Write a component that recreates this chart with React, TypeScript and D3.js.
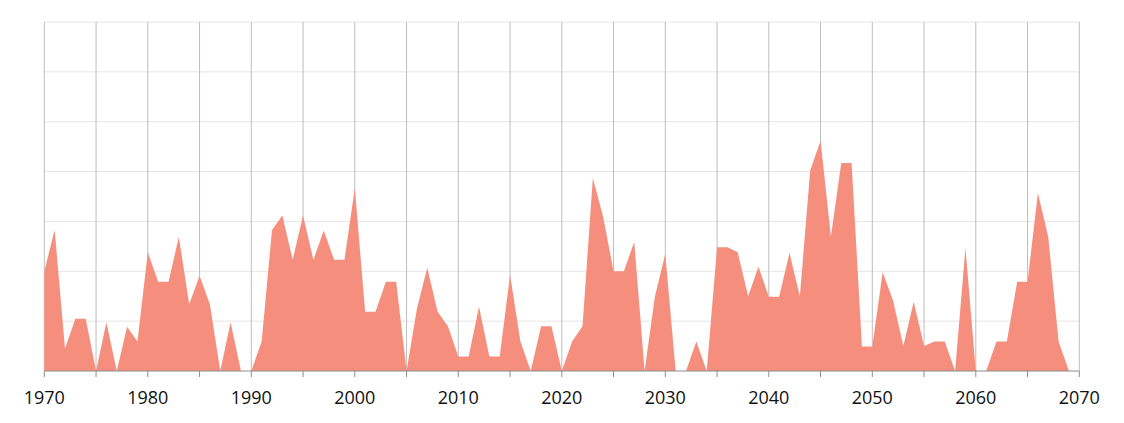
import React from "react";
import * as d3 from "d3";

const years: number[] = d3.range(1970, 2070);
const values: number[] = [
  20, 28.3, 4.5, 10.5, 10.5, 0, 9.8, 0, 8.9, 5.9,
  23.8, 17.9, 17.9, 26.9, 13.4, 19.1, 13.4, 0, 9.8, 0,
  0, 5.9, 28.3, 31.2, 22.3, 31.2, 22.3, 28.2, 22.3, 22.3,
  36.7, 11.9, 11.9, 17.9, 17.9, 0, 12.5, 20.7, 11.9, 9,
  2.9, 2.9, 12.9, 2.9, 2.9, 19.3, 5.9, 0, 9, 9,
  0, 5.9, 9, 38.7, 30.9, 20, 20, 25.9, 0, 15,
  23.5, 0, 0, 5.9, 0, 24.8, 24.8, 23.8, 15, 20.9,
  14.9, 14.9, 23.7, 15, 40.2, 46.2, 27, 41.7, 41.7, 4.9,
  4.9, 19.8, 14.2, 5, 13.9, 5, 5.9, 5.9, 0, 24.7,
  0, 0, 5.9, 5.9, 17.9, 17.9, 35.7, 26.9, 5.9, 0,
];
const xTicks: number[] = d3.range(1970, 2071, 5);
const xLabels: number[] = d3.range(1970, 2071, 10);
const yGrid: number[] = d3.range(10, 71, 10);

const W = 1124;
const H = 423;
const left = 44.3;
const right = 1079.3;
const top = 22;
const bottom = 371;

export default function App() {
  const x = d3.scaleLinear().domain([1970, 2070]).range([left, right]);
  const y = d3.scaleLinear().domain([0, 70]).range([bottom, top]);
  const data = years.map((yr, i) => ({ yr, v: values[i] }));
  const area = d3
    .area<{ yr: number; v: number }>()
    .x((d) => x(d.yr))
    .y0(y(0))
    .y1((d) => y(d.v));

  return (
    <svg
      width={W}
      height={H}
      style={{ position: "absolute", left: 0, top: 0, background: "#fff" }}
    >
      {yGrid.map((g) => (
        <line
          key={"h" + g}
          x1={left}
          x2={right}
          y1={y(g)}
          y2={y(g)}
          stroke="#e6e6e6"
          strokeWidth={1}
        />
      ))}
      {xTicks.map((t) => (
        <line
          key={"v" + t}
          x1={x(t)}
          x2={x(t)}
          y1={top}
          y2={bottom}
          stroke="#bdbdbd"
          strokeWidth={1}
        />
      ))}
      <path d={area(data) || ""} fill="#f68e7e" />
      <line x1={left} x2={right} y1={bottom} y2={bottom} stroke="#8c8c8c" strokeWidth={1} />
      {xTicks.map((t) => (
        <line
          key={"t" + t}
          x1={x(t)}
          x2={x(t)}
          y1={bottom}
          y2={bottom + 6}
          stroke="#8c8c8c"
          strokeWidth={1}
        />
      ))}
      {xLabels.map((t) => (
        <text
          key={"l" + t}
          x={x(t)}
          y={404}
          textAnchor="middle"
          fontFamily="'Open Sans', sans-serif"
          fontSize={18}
          fill="#111"
        >
          {t}
        </text>
      ))}
    </svg>
  );
}
